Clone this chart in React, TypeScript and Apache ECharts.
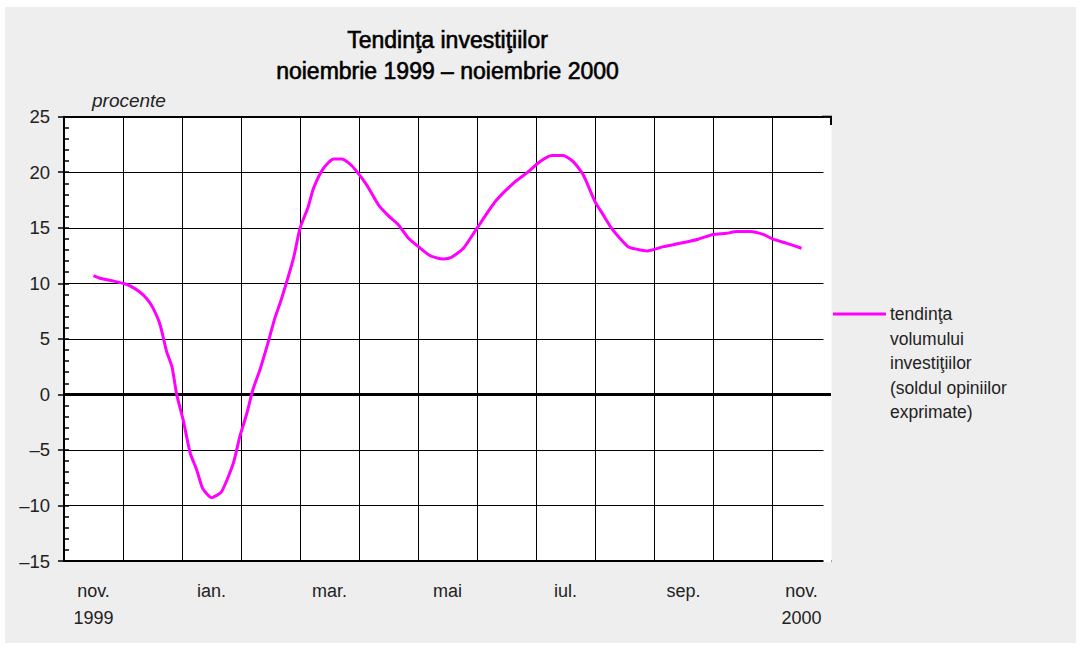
import React, { useEffect, useRef } from "react";
import * as echarts from "echarts";

// Month categories (Nov 1999 – Nov 2000); every other one is labelled
const months = [
  "nov.\n1999", "dec.", "ian.", "feb.", "mar.", "apr.", "mai",
  "iun.", "iul.", "aug.", "sep.", "oct.", "nov.\n2000",
];

// Position of each reading, in months after November 1999
const trendTime = [
  0.0, 0.11, 0.34, 0.5, 0.62, 0.79, 0.91, 1.01, 1.13, 1.24, 1.33, 1.41, 1.52,
  1.64, 1.75, 1.85, 2.0, 2.17, 2.37, 2.48, 2.6, 2.7, 2.82, 2.95, 3.07, 3.19,
  3.39, 3.5, 3.64, 3.73, 3.9, 4.07, 4.21, 4.32, 4.43, 4.63, 4.83, 5.0, 5.17,
  5.34, 5.53, 5.7, 5.84, 5.93, 6.07, 6.27, 6.5, 6.81, 7.12, 7.34, 7.57, 7.77,
  7.96, 8.13, 8.3, 8.5, 8.64, 8.78, 8.92, 9.06, 9.21, 9.38, 9.66, 9.94, 10.25,
  10.5, 10.73, 10.9, 11.13, 11.35, 11.52, 11.75, 12.0,
];

// Trend of investment volume (balance of opinions, percent)
const trendValues = [
  10.7, 10.46, 10.2, 10.0, 9.77, 9.2, 8.57, 7.76, 6.25, 3.85, 2.5, 0.0, -2.3,
  -5.3, -6.8, -8.46, -9.3, -8.76, -6.2, -3.8, -1.7, 0.4, 2.2, 4.5, 6.8, 8.66,
  12.26, 14.96, 16.9, 18.57, 20.37, 21.2, 21.2, 20.87, 20.28, 18.86, 17.06,
  16.07, 15.26, 14.06, 13.2, 12.5, 12.26, 12.2, 12.35, 13.16, 14.96, 17.36,
  19.02, 19.92, 20.96, 21.5, 21.5, 20.96, 19.77, 17.36, 16.16, 14.96, 14.06,
  13.3, 13.07, 12.92, 13.3, 13.6, 13.97, 14.4, 14.5, 14.66, 14.66, 14.4, 13.97,
  13.6, 13.16,
];

const seriesName = "tendinţa\nvolumului\ninvestiţiilor\n(soldul opiniilor\nexprimate)";
const titleText = "Tendinţa investiţiilor\nnoiembrie 1999 – noiembrie 2000";
const unitLabel = "procente";

const FONT = "'Liberation Sans', Arial, Helvetica, sans-serif";
const MAGENTA = "#ff00ff";

export default function App() {
  const ref = useRef<HTMLDivElement>(null);

  useEffect(() => {
    if (!ref.current) return;
    const chart = echarts.init(ref.current, undefined, { renderer: "svg" });
    const fmt = (v: number) => (v < 0 ? "–" + Math.abs(v) : String(v));

    chart.setOption({
      animation: false,
      backgroundColor: "#eeeeee",
      textStyle: { fontFamily: FONT },
      title: {
        text: titleText,
        left: 442.5,
        top: 17,
        textAlign: "center",
        padding: 0,
        textStyle: {
          fontFamily: FONT,
          fontSize: 23,
          fontWeight: "normal",
          color: "#000",
          lineHeight: 31,
          textBorderColor: "#000",
          textBorderWidth: 0.6,
        },
      },
      grid: {
        left: 59,
        right: 245,
        top: 109.7,
        bottom: 82,
        show: true,
        backgroundColor: "#ffffff",
        borderWidth: 0,
      },
      xAxis: [
        {
          type: "category",
          data: months,
          boundaryGap: true,
          position: "bottom",
          axisLine: { show: true, onZero: false, lineStyle: { color: "#000", width: 2 } },
          axisTick: { show: false },
          axisLabel: {
            interval: 1,
            margin: 16,
            fontSize: 18,
            lineHeight: 27,
            color: "#222",
            fontFamily: FONT,
          },
          splitLine: {
            show: true,
            interval: 0,
            showMinLine: false,
            showMaxLine: false,
            lineStyle: { color: "#000", width: 1 },
          },
        },
        {
          type: "value",
          min: -0.5,
          max: 12.5,
          position: "top",
          axisLine: { show: true, onZero: false, lineStyle: { color: "#000", width: 2 } },
          axisTick: { show: false },
          axisLabel: { show: false },
          splitLine: { show: false },
        },
      ],
      yAxis: [
        {
          type: "value",
          min: -15,
          max: 25,
          interval: 5,
          position: "left",
          axisLine: { show: true, onZero: false, lineStyle: { color: "#000", width: 2 } },
          axisTick: { show: true, inside: false, length: 6, lineStyle: { color: "#000", width: 1.5 } },
          axisLabel: {
            margin: 14,
            fontSize: 18.5,
            color: "#222",
            fontFamily: FONT,
            formatter: fmt,
          },
          splitLine: {
            show: true,
            showMinLine: false,
            showMaxLine: false,
            lineStyle: { color: "#000", width: 1 },
          },
        },
        {
          type: "value",
          min: -15,
          max: 25,
          interval: 1,
          position: "left",
          axisLine: { show: false, onZero: false },
          axisTick: { show: true, inside: true, length: 5, lineStyle: { color: "#000", width: 1.5 } },
          axisLabel: { show: false },
          splitLine: { show: false },
        },
      ],
      series: [
        {
          name: seriesName,
          type: "line",
          xAxisIndex: 1,
          yAxisIndex: 0,
          data: trendTime.map((t, i) => [t, trendValues[i]]),
          showSymbol: false,
          smooth: 0.2,
          lineStyle: { color: MAGENTA, width: 3 },
          itemStyle: { color: MAGENTA },
          markLine: {
            silent: true,
            symbol: "none",
            label: { show: false },
            lineStyle: { color: "#000", width: 3, type: "solid" },
            data: [{ yAxis: 0 }],
          },
          z: 5,
        },
      ],
      graphic: [
        // right margin strip of the plot, where the grid lines stop short
        {
          type: "rect",
          z: 1,
          shape: { x: 818.5, y: 110.8, width: 8, height: 444.2 },
          style: { fill: "#ffffff" },
          silent: true,
        },
        {
          type: "line",
          z: 2,
          shape: { x1: 817, y1: 109.7, x2: 827, y2: 109.7 },
          style: { stroke: "#000", lineWidth: 2 },
          silent: true,
        },
        {
          type: "line",
          z: 2,
          shape: { x1: 826, y1: 109, x2: 826, y2: 118 },
          style: { stroke: "#000", lineWidth: 2 },
          silent: true,
        },
        {
          type: "text",
          left: 87,
          top: 84,
          style: {
            text: unitLabel,
            font: `italic 19px ${FONT}`,
            fill: "#222",
          },
        },
        {
          type: "line",
          shape: { x1: 828, y1: 307, x2: 881, y2: 307 },
          style: { stroke: MAGENTA, lineWidth: 3 },
        },
        {
          type: "text",
          x: 885,
          y: 295,
          style: {
            text: seriesName,
            font: `17.5px ${FONT}`,
            lineHeight: 24.5,
            fill: "#222",
            verticalAlign: "top",
          },
        },
      ],
    });

    return () => chart.dispose();
  }, []);

  return (
    <div
      style={{
        position: "absolute",
        left: 0,
        top: 0,
        width: 1081,
        height: 649,
        background: "#ffffff",
      }}
    >
      <div
        ref={ref}
        style={{ position: "absolute", left: 5, top: 7, width: 1071, height: 636 }}
      />
    </div>
  );
}
